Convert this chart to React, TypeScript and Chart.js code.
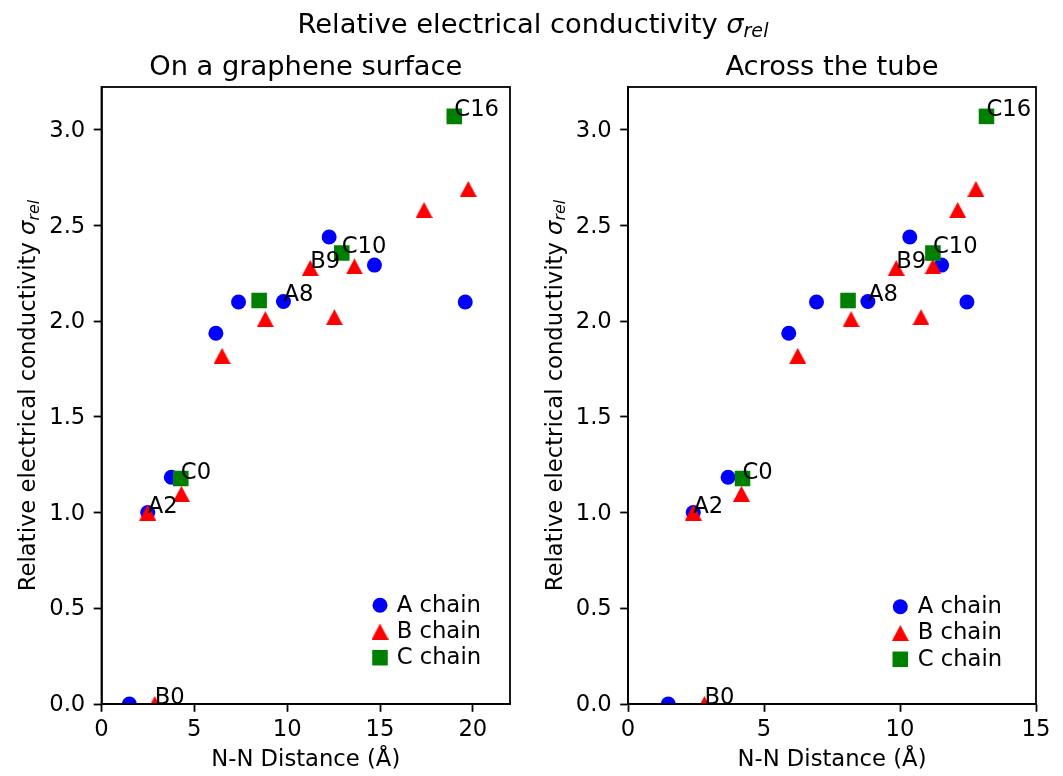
import React, { useEffect, useRef } from 'react';
import { Chart, registerables } from 'chart.js';

Chart.register(...registerables);

const FONT = "'DejaVu Sans', 'Liberation Sans', sans-serif";
const FIG_W = 1063;
const FIG_H = 776;
const TEXT_PX = 22.7;
const TITLE_PX = 27.3;

// ---------------- data ----------------
const seriesNames = ['A chain', 'B chain', 'C chain'];

const aSurfaceDist = [1.5, 2.49, 3.76, 6.16, 7.38, 9.8, 12.26, 14.7, 19.59];
const aTubeDist = [1.48, 2.4, 3.68, 5.91, 6.93, 8.82, 10.36, 11.53, 12.46];
const aCond = [0, 1.0, 1.185, 1.937, 2.1, 2.103, 2.44, 2.293, 2.1];
const aLabels = ['', 'A2', '', '', '', 'A8', '', '', ''];

const bSurfaceDist = [2.87, 2.49, 4.3, 6.49, 8.82, 11.24, 12.54, 13.62, 17.37, 19.75];
const bTubeDist = [2.81, 2.4, 4.17, 6.24, 8.2, 9.86, 10.77, 11.21, 12.12, 12.79];
const bCond = [0, 1.0, 1.098, 1.819, 2.011, 2.278, 2.021, 2.286, 2.581, 2.691];
const bLabels = ['B0', '', '', '', '', 'B9', '', '', '', ''];

const cSurfaceDist = [4.27, 8.49, 12.94, 19.0];
const cTubeDist = [4.21, 8.09, 11.21, 13.18];
const cCond = [1.178, 2.108, 2.356, 3.07];
const cLabels = ['C0', '', 'C10', 'C16'];

const panelTitles = ['On a graphene surface', 'Across the tube'];
const xAxisLabel = 'N-N Distance (Å)';
const yAxisLabelMain = 'Relative electrical conductivity';
const supTitleMain = 'Relative electrical conductivity';
const mathSymbol = 'σ';
const mathSub = 'rel';

const xMaxSurface = 22;
const xMaxTube = 15;
const yMin = 0;
const yMax = 3.2235;
const xTickStep = 5;
const yTickStep = 0.5;

const seriesColors = ['#0000ff', '#ff0000', '#008000'];

// ---------------- helpers ----------------
function makeTriangle(color: string): HTMLCanvasElement {
  const c = document.createElement('canvas');
  c.width = 17;
  c.height = 16;
  const g = c.getContext('2d')!;
  g.fillStyle = color;
  g.beginPath();
  g.moveTo(8.5, 0);
  g.lineTo(17, 16);
  g.lineTo(0, 16);
  g.closePath();
  g.fill();
  return c;
}

function drawMath(
  ctx: CanvasRenderingContext2D,
  x: number,
  y: number,
  size: number,
  main: string,
  sym: string,
  sub: string,
  rotated: boolean
) {
  ctx.save();
  ctx.translate(x, y);
  if (rotated) ctx.rotate(-Math.PI / 2);
  const fMain = `${size}px ${FONT}`;
  const fIt = `italic ${size}px ${FONT}`;
  const fSub = `italic ${size * 0.7}px ${FONT}`;
  ctx.font = fMain;
  const w1 = ctx.measureText(main + ' ').width;
  ctx.font = fIt;
  const w2 = ctx.measureText(sym).width;
  ctx.font = fSub;
  const w3 = ctx.measureText(sub).width;
  let u = -(w1 + w2 + w3) / 2;
  ctx.fillStyle = '#000';
  ctx.textAlign = 'left';
  ctx.textBaseline = 'alphabetic';
  ctx.font = fMain;
  ctx.fillText(main + ' ', u, 0);
  u += w1;
  ctx.font = fIt;
  ctx.fillText(sym, u, 0);
  u += w2;
  ctx.font = fSub;
  ctx.fillText(sub, u, size * 0.17);
  ctx.restore();
}

function drawMarker(ctx: CanvasRenderingContext2D, ds: any, x: number, y: number) {
  const style = ds.pointStyle;
  ctx.save();
  ctx.fillStyle = ds.backgroundColor;
  if (style && typeof style === 'object') {
    ctx.drawImage(style, x - style.width / 2, y - style.height / 2, style.width, style.height);
  } else if (style === 'rect') {
    const h = ds.pointRadius * Math.SQRT1_2;
    ctx.fillRect(x - h, y - h, 2 * h, 2 * h);
  } else {
    ctx.beginPath();
    ctx.arc(x, y, ds.pointRadius, 0, Math.PI * 2);
    ctx.fill();
  }
  ctx.restore();
}

const decorPlugin = {
  id: 'decor',
  afterDatasetsDraw(chart: any) {
    const ctx = chart.ctx as CanvasRenderingContext2D;
    const xs = chart.scales.x;
    const ys = chart.scales.y;
    ctx.save();
    ctx.font = `${TEXT_PX}px ${FONT}`;
    ctx.fillStyle = '#000';
    ctx.textAlign = 'left';
    ctx.textBaseline = 'alphabetic';
    chart.data.datasets.forEach((ds: any) => {
      const labels: string[] = ds.pointLabels || [];
      ds.data.forEach((p: any, i: number) => {
        if (labels[i]) ctx.fillText(labels[i], xs.getPixelForValue(p.x), ys.getPixelForValue(p.y));
      });
    });
    ctx.restore();
  },
  afterDraw(chart: any, _args: any, opts: any) {
    const ctx = chart.ctx as CanvasRenderingContext2D;
    const a = chart.chartArea;
    ctx.save();
    // axes frame
    ctx.strokeStyle = '#000';
    ctx.lineWidth = 1.8;
    ctx.strokeRect(a.left, a.top, a.right - a.left, a.bottom - a.top);
    // panel title
    ctx.fillStyle = '#000';
    ctx.font = `${TITLE_PX}px ${FONT}`;
    ctx.textAlign = 'center';
    ctx.textBaseline = 'alphabetic';
    ctx.fillText(opts.title, (a.left + a.right) / 2, opts.titleBaseline);
    ctx.restore();
    // y axis label
    drawMath(ctx, a.left - opts.yLabelGap, (a.top + a.bottom) / 2, TEXT_PX, yAxisLabelMain, mathSymbol, mathSub, true);
    // figure title
    if (opts.suptitle) {
      drawMath(ctx, opts.suptitleX, opts.suptitleBaseline, TITLE_PX, supTitleMain, mathSymbol, mathSub, false);
    }
    // legend
    const lg = opts.legend;
    chart.data.datasets.forEach((ds: any, i: number) => {
      const mx = a.right - lg.dx;
      const my = a.bottom - lg.dy + i * lg.gap;
      drawMarker(ctx, ds, mx, my);
      ctx.save();
      ctx.fillStyle = '#000';
      ctx.font = `${TEXT_PX}px ${FONT}`;
      ctx.textAlign = 'left';
      ctx.textBaseline = 'alphabetic';
      ctx.fillText(ds.label, mx + lg.textDx, my + 6.3);
      ctx.restore();
    });
  },
};

function buildConfig(panel: any, triangle: HTMLCanvasElement): any {
  const dists = panel.dists;
  const conds = [aCond, bCond, cCond];
  const labels = [aLabels, bLabels, cLabels];
  const styles: any[] = ['circle', triangle, 'rect'];
  const radii = [7.5, 8, 11];
  const datasets = seriesNames.map((name, i) => ({
    label: name,
    data: dists[i].map((x: number, j: number) => ({ x, y: conds[i][j] })),
    pointStyle: styles[i],
    pointRadius: radii[i],
    pointHoverRadius: radii[i],
    backgroundColor: seriesColors[i],
    borderColor: seriesColors[i],
    pointBorderWidth: 0,
    borderWidth: 0,
    showLine: false,
    clip: 0,
    order: 3 - i,
    pointLabels: labels[i],
  }));

  const tickFont = { size: TEXT_PX, family: FONT };
  const grid = {
    display: true,
    drawOnChartArea: false,
    drawTicks: true,
    tickLength: 7.8,
    tickWidth: 1.8,
    tickColor: '#000',
  };
  const border = { display: true, color: '#000', width: 1.8 };

  return {
    type: 'scatter',
    data: { datasets },
    plugins: [decorPlugin],
    options: {
      responsive: false,
      animation: false,
      devicePixelRatio: 1,
      events: [],
      layout: { padding: panel.padding },
      scales: {
        x: {
          type: 'linear',
          min: 0,
          max: panel.xMax,
          afterFit: (s: any) => {
            s.height = 72;
          },
          ticks: {
            stepSize: xTickStep,
            includeBounds: false,
            padding: 5,
            maxRotation: 0,
            autoSkip: false,
            color: '#000',
            font: tickFont,
          },
          grid,
          border,
          title: {
            display: true,
            text: xAxisLabel,
            color: '#000',
            font: { size: TEXT_PX, family: FONT },
            padding: { top: 0, bottom: 2.2 },
          },
        },
        y: {
          type: 'linear',
          min: yMin,
          max: yMax,
          afterFit: (s: any) => {
            s.width = 100;
          },
          ticks: {
            stepSize: yTickStep,
            includeBounds: false,
            padding: 8.4,
            labelOffset: 1.2,
            autoSkip: false,
            color: '#000',
            font: tickFont,
            callback: (v: any) => Number(v).toFixed(1),
          },
          grid,
          border,
          title: { display: false },
        },
      },
      plugins: {
        legend: { display: false },
        tooltip: { enabled: false },
        title: { display: false },
        decor: {
          title: panel.title,
          titleBaseline: 74.5,
          yLabelGap: 66.5,
          suptitle: panel.suptitle,
          suptitleX: 533,
          suptitleBaseline: 32.5,
          legend: panel.legend,
        },
      },
    },
  };
}

export default function App() {
  const leftRef = useRef<HTMLCanvasElement>(null);
  const rightRef = useRef<HTMLCanvasElement>(null);

  useEffect(() => {
    const triangle = makeTriangle(seriesColors[1]);
    const panels = [
      {
        title: panelTitles[0],
        dists: [aSurfaceDist, bSurfaceDist, cSurfaceDist],
        xMax: xMaxSurface,
        padding: { left: 1.5, right: FIG_W - 510, top: 87, bottom: 0 },
        legend: { dx: 130, dy: 98.7, textDx: 16.7, gap: 26.2 },
        suptitle: true,
      },
      {
        title: panelTitles[1],
        dists: [aTubeDist, bTubeDist, cTubeDist],
        xMax: xMaxTube,
        padding: { left: 528, right: FIG_W - 1036, top: 87, bottom: 0 },
        legend: { dx: 135.7, dy: 97.3, textDx: 17.4, gap: 26.3 },
        suptitle: false,
      },
    ];
    const c1 = new Chart(leftRef.current!, buildConfig(panels[0], triangle));
    const c2 = new Chart(rightRef.current!, buildConfig(panels[1], triangle));
    return () => {
      c1.destroy();
      c2.destroy();
    };
  }, []);

  const canvasStyle: React.CSSProperties = {
    position: 'absolute',
    left: 0,
    top: 0,
    width: FIG_W,
    height: FIG_H,
  };

  return (
    <div
      style={{
        position: 'absolute',
        left: 0,
        top: 0,
        width: FIG_W,
        height: FIG_H,
        background: '#ffffff',
        overflow: 'hidden',
      }}
    >
      <canvas ref={leftRef} width={FIG_W} height={FIG_H} style={canvasStyle} />
      <canvas ref={rightRef} width={FIG_W} height={FIG_H} style={canvasStyle} />
    </div>
  );
}
